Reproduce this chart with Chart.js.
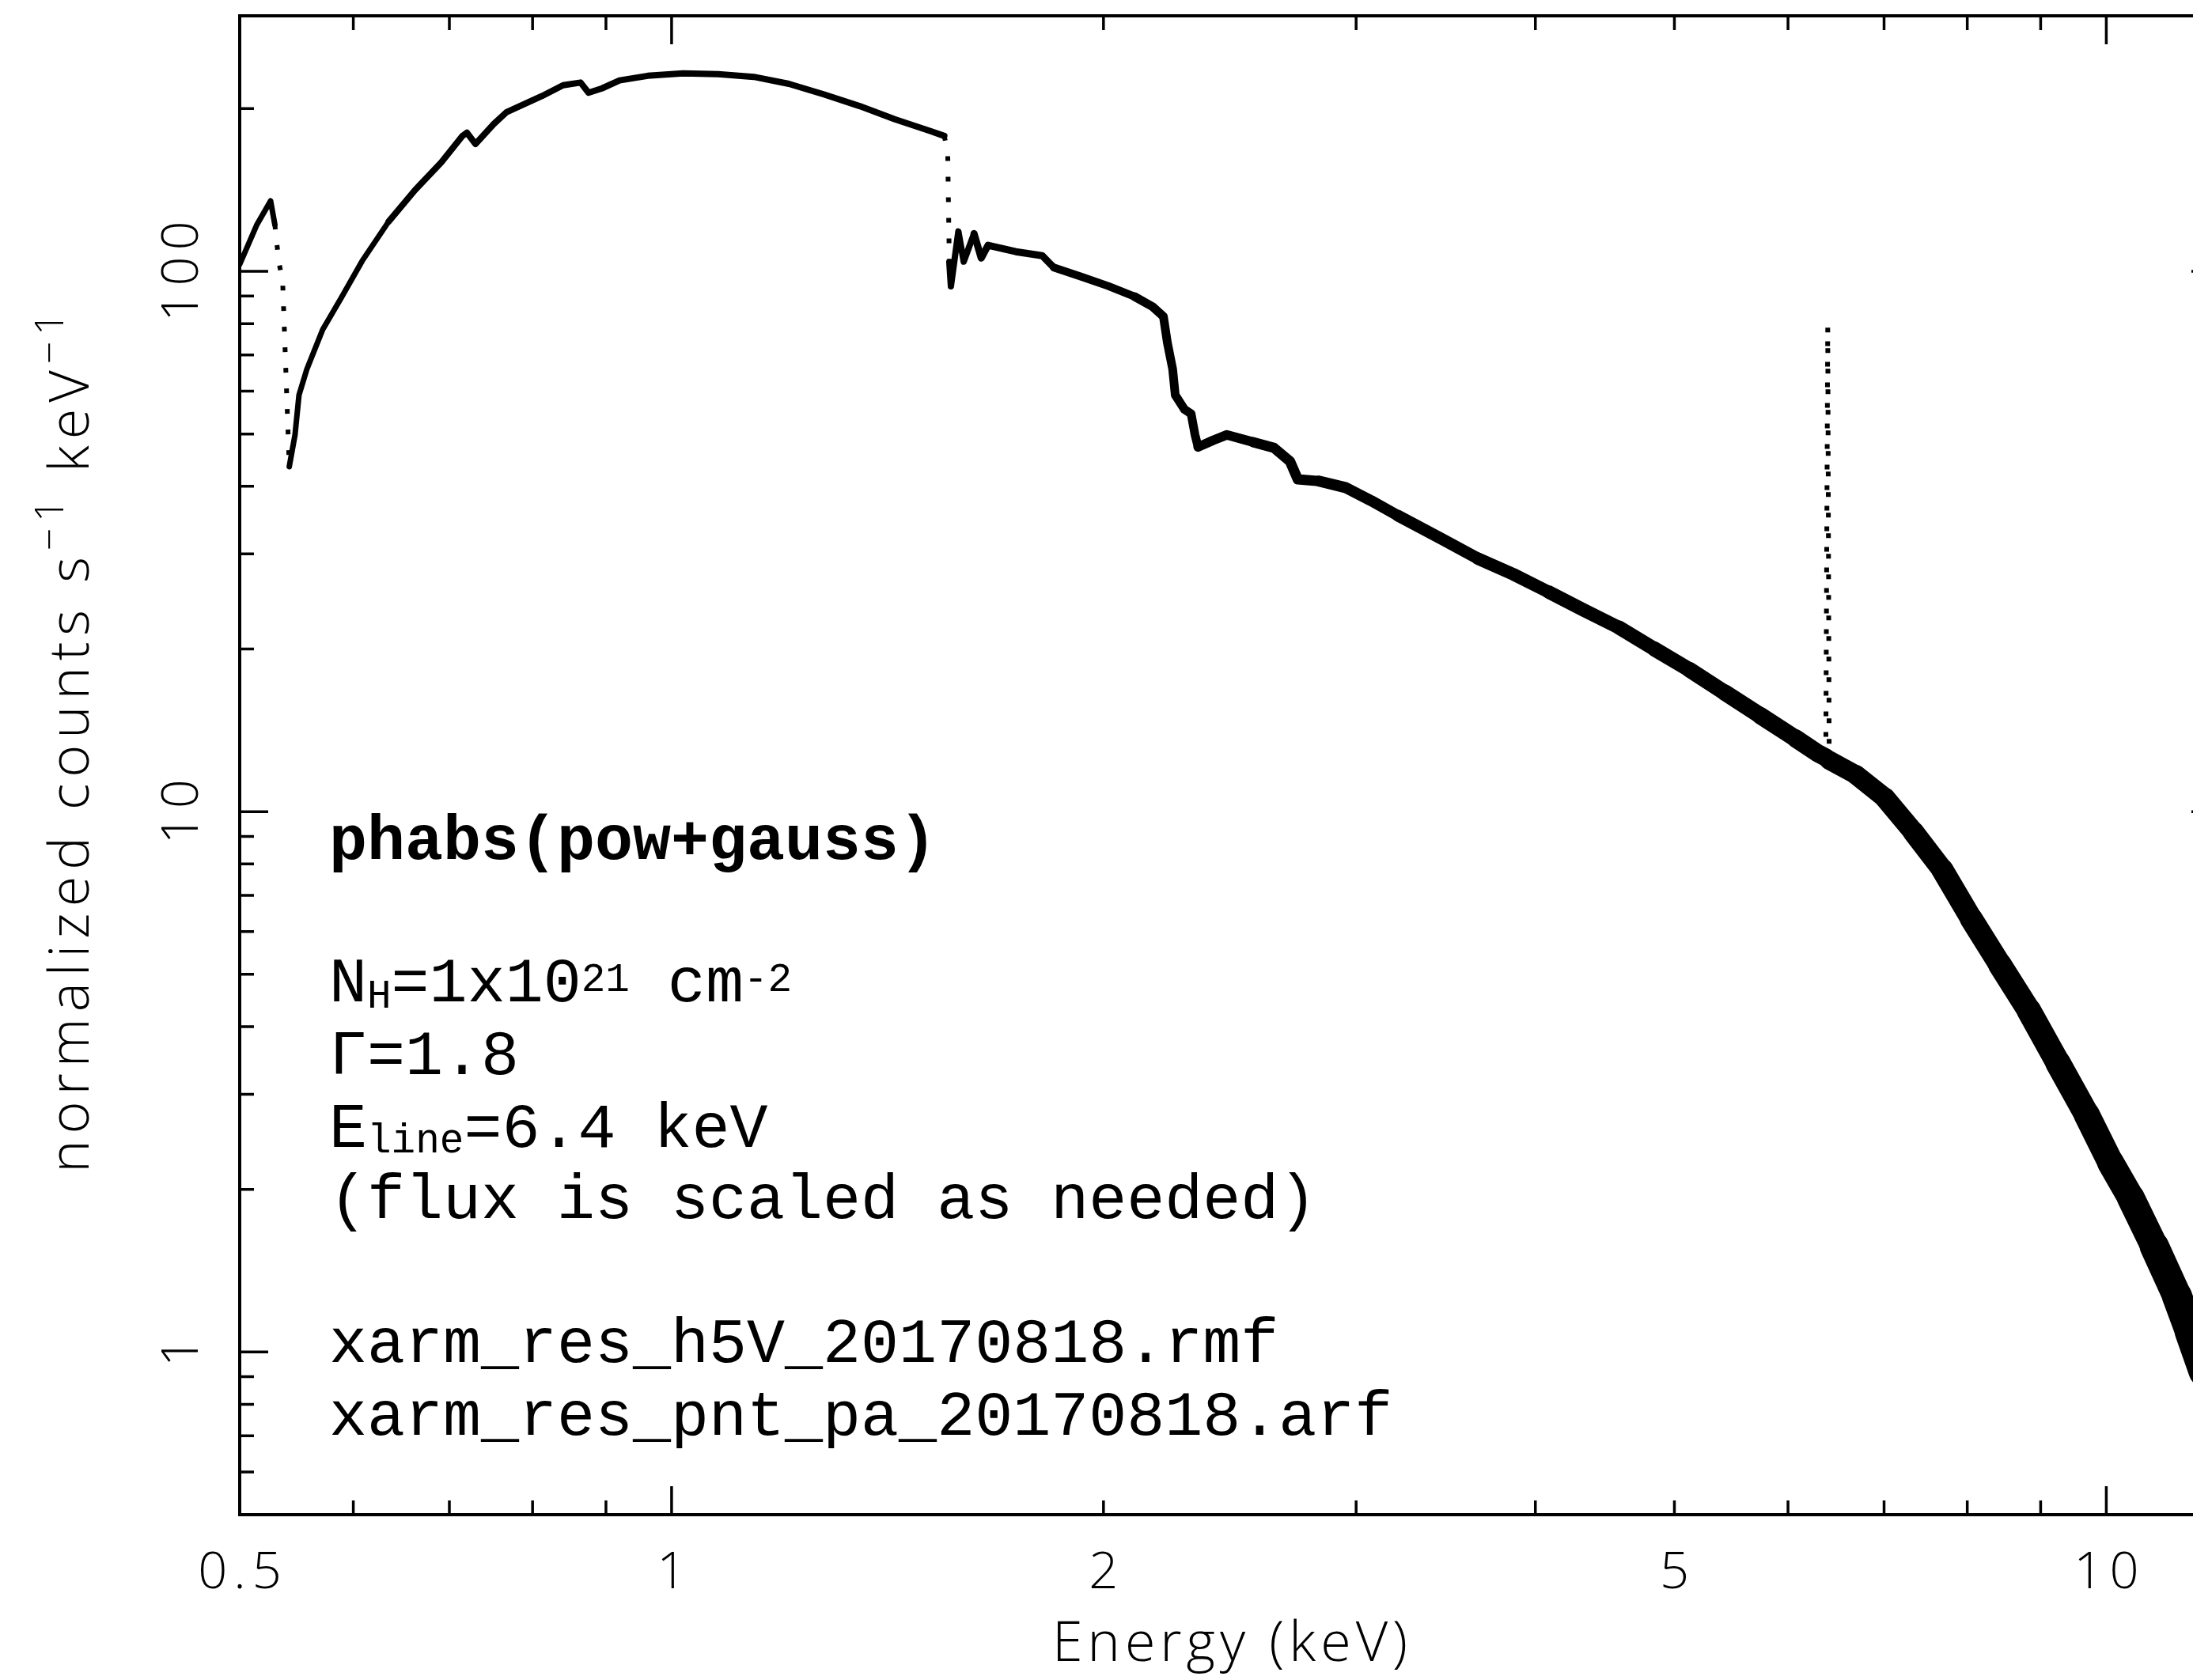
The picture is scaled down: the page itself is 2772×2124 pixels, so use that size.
<!DOCTYPE html>
<html>
<head>
<meta charset="utf-8">
<title>phabs(pow+gauss) model spectrum</title>
<script src="https://cdn.jsdelivr.net/npm/chart.js@4.4.1/dist/chart.umd.min.js"></script>
<style>
  html, body { margin: 0; padding: 0; background: #fff; overflow: hidden; }
  canvas { display: block; }
</style>
</head>
<body>
<canvas id="spec" width="2900" height="2124"></canvas>
<script>
// folded model spectrum (keV, counts/s/keV)
const energyKeV = [
  0.500, 0.514, 0.5254, 0.529, 0.5323, 0.5357, 0.5414, 0.5464, 0.5499, 0.5569,
  0.5712, 0.5885, 0.6086, 0.635, 0.6625, 0.691, 0.7147, 0.720, 0.730, 0.7517,
  0.7672, 0.8121, 0.8402, 0.8641, 0.8752, 0.8942, 0.9199, 0.9625, 1.0186, 1.0779,
  1.1409, 1.2071, 1.2777, 1.3521, 1.4307, 1.5137, 1.5491, 1.5576, 1.5616, 1.5656,
  1.5845, 1.5981, 1.6248, 1.6436, 1.6618, 1.7375, 1.8125, 1.8356, 1.847, 1.9313,
  2.0153, 2.1018, 2.1651, 2.2019, 2.2159, 2.2348, 2.2442, 2.2778, 2.3019, 2.3165,
  2.328, 2.3861, 2.4372, 2.5424, 2.630, 2.6977, 2.732, 2.8263, 2.9483, 3.0744,
  3.2077, 3.4461, 3.6478, 3.8603, 4.0852, 4.3236, 4.5753, 4.842, 5.1236, 5.423,
  5.7395, 6.0737, 6.2838, 6.375, 6.395, 6.41, 6.691, 7.009, 7.34, 7.688,
  8.053, 8.434, 8.834, 9.252, 9.69, 10.07, 10.40, 10.80, 11.20, 11.44,
  11.70
];
const countsRate = [
  103, 122, 135, 122, 104.5, 95.5, 43.5, 49.8, 59, 65.9,
  78, 89.3, 104.5, 123.6, 141.4, 159.1, 178, 180.5, 172, 187.3,
  197, 211, 221, 223.5, 214, 218, 225.6, 230, 232.5, 231.7,
  229, 222.3, 212.4, 202.2, 191.2, 181.9, 178, 165.7, 104, 93.8,
  118.5, 104.2, 117.4, 105.8, 111.7, 108.7, 106.9, 103.3, 101.6, 97.7,
  93.9, 89.8, 85.9, 82.5, 73.8, 65.9, 59, 55.5, 54.5, 49.8,
  47.3, 48.7, 49.8, 48.3, 47.1, 44.5, 41.2, 40.9, 39.8, 37.6,
  35.3, 31.9, 29.4, 27.5, 25.5, 23.6, 21.9, 20.0, 18.3, 16.6,
  15.06, 13.66, 12.86, 12.6, 79, 12.45, 11.70, 10.61, 9.16, 7.80,
  6.33, 5.20, 4.28, 3.43, 2.75, 2.24, 1.93, 1.57, 1.27, 1.09,
  0.92
];

const xTickValues = [0.5, 1, 2, 5, 10];
const xTickLabels = ["0.5", "1", "2", "5", "10"];
const yTickValues = [1, 10, 100];
const yTickLabels = ["1", "10", "100"];
const xRange = [0.5, 12];
const yRange = [0.5, 297];

// steep jumps that pgplot renders as sparse dots
const dottedSpans = [[0.5285, 0.5415], [1.549, 1.5615], [6.37, 6.42]];
// line gets fatter with energy (noise band)
const widthStops = [[0.5, 7], [0.8, 8], [1.5, 8], [2, 10], [3, 14], [4, 16], [5, 19], [6, 22], [8, 28], [10, 33], [12, 40]];

const CANVAS_W = 2900, CANVAS_H = 2124;
const BOX = { left: 303, top: 20, right: 2806, bottom: 1915 };
const SANS = '"Open Sans", "DejaVu Sans", sans-serif';
const MONO = '"Liberation Mono", "Courier New", monospace';

function bandWidth(e) {
  const le = Math.log10(e);
  for (let i = 1; i < widthStops.length; i++) {
    const [e0, w0] = widthStops[i - 1], [e1, w1] = widthStops[i];
    if (e <= e1) {
      const t = (le - Math.log10(e0)) / (Math.log10(e1) - Math.log10(e0));
      return Math.round(w0 + t * (w1 - w0));
    }
  }
  return widthStops[widthStops.length - 1][1];
}
const midE = c => Math.sqrt(c.p0.parsed.x * c.p1.parsed.x);
const dotted = c => { const e = midE(c); return dottedSpans.some(([a, b]) => e > a && e < b); };

function logTicks(min, max) {
  const out = [];
  for (let k = Math.floor(Math.log10(min)); k <= Math.ceil(Math.log10(max)); k++) {
    for (let m = 1; m <= 9; m++) {
      const v = m * Math.pow(10, k);
      if (v > min * 1.0001 && v < max * 0.9999) out.push(v);
    }
  }
  return out;
}
const isMajor = v => Math.abs(Math.log10(v) - Math.round(Math.log10(v))) < 1e-9;

// draw a line of text made of runs {t, size, dy, bold}
function drawRuns(ctx, x, y, runs, family) {
  let cx = x;
  runs.forEach(r => {
    ctx.font = (r.bold ? 'bold ' : '') + r.size + 'px ' + family;
    ctx.fillText(r.t, cx, y + (r.dy || 0));
    cx += ctx.measureText(r.t).width;
  });
  return cx - x;
}
function runsWidth(ctx, runs, family, weight) {
  let w = 0;
  runs.forEach(r => {
    ctx.font = (weight || '') + ' ' + r.size + 'px ' + family;
    w += ctx.measureText(r.t).width;
  });
  return w;
}

const pgplotFrame = {
  id: 'pgplotFrame',
  afterDatasetsDraw(chart) {
    const { ctx, chartArea: a, scales: { x, y } } = chart;
    ctx.save();
    ctx.strokeStyle = '#000';
    ctx.fillStyle = '#000';

    // box
    ctx.lineWidth = 4;
    ctx.strokeRect(a.left, a.top, a.right - a.left, a.bottom - a.top);

    // inward ticks on all four sides
    ctx.lineWidth = 3.5;
    ctx.beginPath();
    logTicks(x.min, x.max).forEach(v => {
      const px = x.getPixelForValue(v);
      const len = isMajor(v) ? 36 : 18;
      ctx.moveTo(px, a.bottom); ctx.lineTo(px, a.bottom - len);
      ctx.moveTo(px, a.top); ctx.lineTo(px, a.top + len);
    });
    logTicks(y.min, y.max).forEach(v => {
      const py = y.getPixelForValue(v);
      const len = isMajor(v) ? 36 : 18;
      ctx.moveTo(a.left, py); ctx.lineTo(a.left + len, py);
      ctx.moveTo(a.right, py); ctx.lineTo(a.right - len, py);
    });
    ctx.stroke();

    // tick labels
    ctx.font = '300 65px ' + SANS;
    ctx.letterSpacing = '8px';
    ctx.textAlign = 'center';
    ctx.textBaseline = 'alphabetic';
    xTickValues.forEach((v, i) => {
      ctx.fillText(xTickLabels[i], x.getPixelForValue(v) + 4, a.bottom + 93);
    });
    yTickValues.forEach((v, i) => {
      ctx.save();
      ctx.translate(250, y.getPixelForValue(v));
      ctx.rotate(-Math.PI / 2);
      ctx.fillText(yTickLabels[i], 4, 0);
      ctx.restore();
    });

    // axis titles
    ctx.font = '300 70px ' + SANS;
    ctx.letterSpacing = '6px';
    ctx.fillText('Energy (keV)', (a.left + a.right) / 2 + 3, a.bottom + 185);

    ctx.textAlign = 'left';
    ctx.letterSpacing = '8px';
    const yTitle = [
      { t: 'normalized counts s', size: 70 },
      { t: '\u22121', size: 50, dy: -32 },
      { t: ' keV', size: 70 },
      { t: '\u22121', size: 50, dy: -32 }
    ];
    const tw = runsWidth(ctx, yTitle, SANS, '300');
    ctx.save();
    ctx.translate(112, 935 + tw / 2);
    ctx.rotate(-Math.PI / 2);
    let cx = 0;
    yTitle.forEach(r => {
      ctx.font = '300 ' + r.size + 'px ' + SANS;
      ctx.fillText(r.t, cx, r.dy || 0);
      cx += ctx.measureText(r.t).width;
    });
    ctx.restore();

    // model annotation
    ctx.letterSpacing = '0px';
    const L = 416, S = 80, s = 51;
    drawRuns(ctx, L, 1086, [{ t: 'phabs(pow+gauss)', size: S, bold: true }], MONO);
    drawRuns(ctx, L, 1266, [
      { t: 'N', size: S }, { t: 'H', size: s, dy: 8 }, { t: '=1x10', size: S },
      { t: '21', size: s, dy: -13 }, { t: ' cm', size: S }, { t: '-2', size: s, dy: -13 }
    ], MONO);
    drawRuns(ctx, L, 1358, [{ t: '\u0393=1.8', size: S }], MONO);
    drawRuns(ctx, L, 1450, [
      { t: 'E', size: S }, { t: 'line', size: s, dy: 7 }, { t: '=6.4 keV', size: S }
    ], MONO);
    drawRuns(ctx, L, 1540, [{ t: '(flux is scaled as needed)', size: S }], MONO);
    drawRuns(ctx, L, 1722, [{ t: 'xarm_res_h5V_20170818.rmf', size: S }], MONO);
    drawRuns(ctx, L, 1814, [{ t: 'xarm_res_pnt_pa_20170818.arf', size: S }], MONO);

    ctx.restore();
  }
};

new Chart(document.getElementById('spec'), {
  type: 'line',
  data: {
    datasets: [{
      label: 'model',
      data: energyKeV.map((e, i) => ({ x: e, y: countsRate[i] })),
      borderColor: '#000',
      borderWidth: 7,
      borderJoinStyle: 'round',
      borderCapStyle: 'round',
      pointRadius: 0,
      tension: 0,
      fill: false,
      segment: {
        borderWidth: c => dotted(c) ? 6 : bandWidth(midE(c)),
        borderDash: c => dotted(c) ? [6, 20] : [],
        borderCapStyle: c => dotted(c) ? 'butt' : 'round'
      }
    }]
  },
  options: {
    responsive: false,
    animation: false,
    devicePixelRatio: 1,
    layout: {
      padding: {
        left: BOX.left, top: BOX.top,
        right: CANVAS_W - BOX.right, bottom: CANVAS_H - BOX.bottom
      }
    },
    plugins: { legend: { display: false }, tooltip: { enabled: false } },
    scales: {
      x: { type: 'logarithmic', min: xRange[0], max: xRange[1], display: false },
      y: { type: 'logarithmic', min: yRange[0], max: yRange[1], display: false }
    }
  },
  plugins: [pgplotFrame]
});
</script>
</body>
</html>
